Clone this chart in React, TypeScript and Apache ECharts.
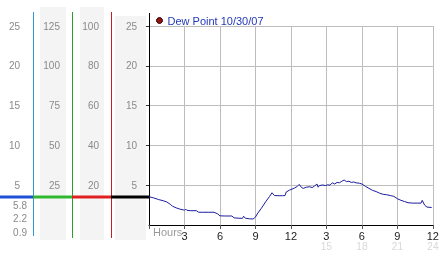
import React, { useEffect, useRef } from "react";
import * as echarts from "echarts";

// Hours since midnight and dew point readings
const hours = [
  0.0, 0.4, 0.8, 1.2, 1.5, 1.8, 2.0, 2.3, 2.6, 2.9, 3.0, 3.1, 3.2, 3.5, 4.0, 4.2, 4.5, 5.0, 5.5, 5.8,
  6.0, 6.5, 7.0, 7.2, 7.6, 7.9, 8.0, 8.15, 8.5, 8.8, 9.0, 9.2, 9.5, 9.9, 10.2, 10.4, 10.6, 11.0, 11.3,
  11.5, 11.6, 11.9, 12.0, 12.3, 12.5, 12.6, 12.7, 12.9, 13.05, 13.3, 13.6, 13.8, 14.0, 14.2, 14.3, 14.4,
  14.7, 14.9, 15.1, 15.3, 15.5, 15.7, 15.9, 16.1, 16.3, 16.5, 16.7, 16.9, 17.1, 17.3, 17.5, 17.8, 18.0,
  18.3, 18.6, 18.9, 19.2, 19.5, 19.8, 20.1, 20.4, 20.7, 21.0, 21.3, 21.6, 21.9, 22.3, 22.7, 23.0, 23.1,
  23.3, 23.5, 23.9,
];
const dewPoint = [
  3.56, 3.4, 3.2, 3.05, 2.9, 2.6, 2.35, 2.15, 2.0, 1.9, 1.85, 2.0, 1.85, 1.8, 1.8, 1.6, 1.6, 1.6, 1.6, 1.4,
  1.15, 1.13, 1.13, 0.9, 0.85, 0.84, 1.1, 0.85, 0.78, 0.75, 1.0, 1.5, 2.1, 3.0, 3.6, 4.05, 3.7, 3.68, 3.68,
  3.7, 4.15, 4.4, 4.45, 4.65, 4.8, 4.95, 5.1, 4.7, 4.6, 4.75, 4.8, 4.7, 4.9, 5.15, 4.75, 4.95,
  5.03, 4.95, 5.05, 5.0, 5.3, 5.15, 5.35, 5.3, 5.5, 5.65, 5.45, 5.5, 5.35, 5.4, 5.3, 5.24, 5.15,
  4.85, 4.6, 4.35, 4.2, 4.0, 3.85, 3.8, 3.7, 3.6, 3.3, 3.1, 2.95, 2.8, 2.75, 2.75, 2.75, 3.1,
  2.5, 2.25, 2.2,
];

const seriesName = "Dew Point 10/30/07";
const yMax = 25;
const yStep = 5;
// multipliers of the side scales (from left): col1, col2, col3
const sideScales = [1, 5, 4];
const readouts = ["5.8", "2.2", "0.9"];
const hourStep = 3;
const hourMax = 24;

export default function App() {
  const ref = useRef<HTMLDivElement>(null);

  useEffect(() => {
    if (!ref.current) return;
    const chart = echarts.init(ref.current, undefined, { renderer: "svg" });
    const font = "Liberation Sans, Arial, sans-serif";
    const gridLeft = 149;
    const sideOffsets = [117, 77, 38];

    const sideAxes = sideScales.map((m, i) => ({
      type: "value" as const,
      position: "left" as const,
      offset: sideOffsets[i],
      min: 0,
      max: yMax * m,
      interval: yStep * m,
      axisLine: { show: false },
      axisTick: { show: false },
      splitLine: { show: false },
      axisLabel: {
        margin: 12,
        color: "#8a8a8a",
        fontSize: 10,
        fontFamily: font,
        showMinLabel: false,
      },
    }));

    const option: any = {
      animation: false,
      textStyle: { fontFamily: font },
      grid: { left: gridLeft, right: 5, top: 26, bottom: 28 },
      legend: {
        left: 156,
        top: 15,
        padding: 0,
        icon: "circle",
        itemWidth: 6,
        itemHeight: 6,
        textStyle: { color: "#2238b8", fontSize: 11, fontFamily: font },
        data: [
          {
            name: seriesName,
            itemStyle: { color: "#8b1414", borderColor: "#3a0000", borderWidth: 1 },
          },
        ],
      },
      xAxis: {
        type: "value",
        min: 0,
        max: hourMax,
        interval: hourStep,
        axisLine: { lineStyle: { color: "#000", width: 1 } },
        axisTick: { length: 4, lineStyle: { color: "#555" } },
        splitLine: { lineStyle: { color: "#bdbdbd" } },
        axisLabel: {
          margin: 6,
          color: "#222",
          fontSize: 11,
          fontFamily: font,
          lineHeight: 10,
          hideOverlap: false,
          showMaxLabel: true,
          formatter: (v: number) => {
            if (v === 0 || v % hourStep !== 0) return "";
            const clock = v > 12 ? v - 12 : v;
            return v > 12 ? `{c|${clock}}\n{f|${v}}` : `{c|${clock}}`;
          },
          rich: {
            c: { color: "#222", fontSize: 11, fontFamily: font, lineHeight: 10 },
            f: { color: "#d8d8d8", fontSize: 10, fontFamily: font, lineHeight: 10 },
          },
        },
      },
      yAxis: [
        {
          type: "value",
          min: 0,
          max: yMax,
          interval: yStep,
          axisLine: { show: true, lineStyle: { color: "#000", width: 1 } },
          axisTick: { show: true, length: 3, lineStyle: { color: "#333" } },
          splitLine: { lineStyle: { color: "#bdbdbd" } },
          axisLabel: {
            margin: 12,
            color: "#8a8a8a",
            fontSize: 10,
            fontFamily: font,
            showMinLabel: false,
          },
        },
        ...sideAxes,
      ],
      series: [
        {
          name: seriesName,
          type: "line",
          showSymbol: false,
          yAxisIndex: 0,
          lineStyle: { color: "#1c1ca0", width: 1 },
          itemStyle: { color: "#1c1ca0" },
          data: hours.map((h, i) => [h, dewPoint[i]]),
        },
      ],
      graphic: [
        { type: "rect", z: -10, shape: { x: 40, y: 7, width: 26, height: 233 }, style: { fill: "#f4f4f4" } },
        { type: "rect", z: -10, shape: { x: 80, y: 7, width: 24, height: 233 }, style: { fill: "#f4f4f4" } },
        { type: "rect", z: -10, shape: { x: 115, y: 16, width: 31, height: 224 }, style: { fill: "#f4f4f4" } },
        { type: "line", shape: { x1: 33.5, y1: 12, x2: 33.5, y2: 236 }, style: { stroke: "#2d9ad2", lineWidth: 1 } },
        { type: "line", shape: { x1: 72.5, y1: 12, x2: 72.5, y2: 238 }, style: { stroke: "#2aa02a", lineWidth: 1 } },
        { type: "line", shape: { x1: 111.5, y1: 12, x2: 111.5, y2: 238 }, style: { stroke: "#c81e1e", lineWidth: 1 } },
        { type: "line", shape: { x1: 0, y1: 197, x2: 33, y2: 197 }, style: { stroke: "#1f4fd6", lineWidth: 3 } },
        { type: "line", shape: { x1: 33, y1: 197, x2: 72, y2: 197 }, style: { stroke: "#2fb82f", lineWidth: 3 } },
        { type: "line", shape: { x1: 72, y1: 197, x2: 111, y2: 197 }, style: { stroke: "#e02020", lineWidth: 3 } },
        { type: "line", shape: { x1: 111, y1: 197, x2: 149, y2: 197 }, style: { stroke: "#000", lineWidth: 3 } },
        { type: "line", shape: { x1: 149.5, y1: 13, x2: 149.5, y2: 27 }, style: { stroke: "#000", lineWidth: 1 } },
        ...readouts.map((t, i) => ({
          type: "text",
          style: {
            text: t,
            x: 27,
            y: 205 + i * 13.5,
            align: "right",
            verticalAlign: "middle",
            fill: "#8a8a8a",
            font: `10px ${font}`,
          },
        })),
        {
          type: "text",
          style: {
            text: "Hours",
            x: 153,
            y: 232,
            verticalAlign: "middle",
            fill: "#9a9a9a",
            font: `11px ${font}`,
          },
        },
      ],
    };

    chart.setOption(option);
    return () => chart.dispose();
  }, []);

  return (
    <div
      ref={ref}
      style={{ position: "fixed", left: 0, top: 0, width: 442, height: 253 }}
    />
  );
}
